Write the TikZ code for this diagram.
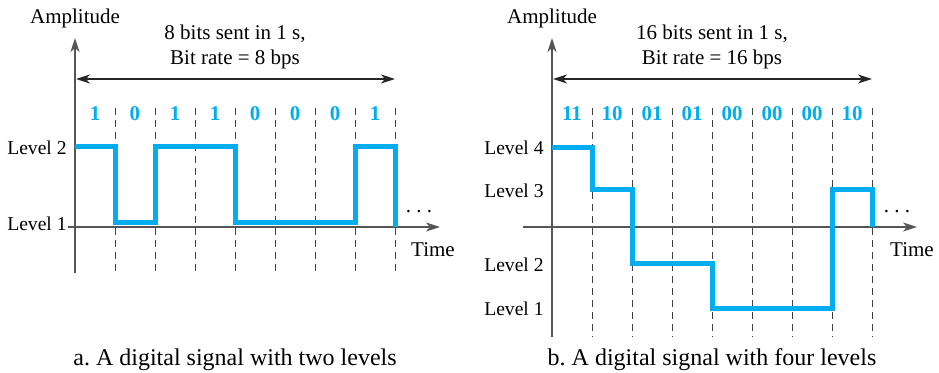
\documentclass[tikz,border=0pt]{standalone}
\usepackage{fontspec}
\setmainfont{Liberation Serif}
\usetikzlibrary{positioning, arrows.meta}
\definecolor{sigblue}{RGB}{0,174,239}
\definecolor{axisgray}{RGB}{85,85,85}
\tikzset{
	tip/.tip={Stealth[length=7pt, width=4.5pt, inset=2pt]},
	axis/.style={line width=1pt, axisgray, -tip},
	span/.style={line width=0.6pt, black!85, tip-tip},
	signal/.style={line width=2.5pt, sigblue},
	slot/.style={line width=0.5pt, dash pattern=on 3.5pt off 2.5pt, black!75},
	bit/.style={sigblue, font=\fontsize{10.5}{12}\selectfont\bfseries},
	lbl/.style={inner sep=0pt, font=\fontsize{10.5}{12.5}\selectfont},
	lvl/.style={inner sep=0pt, anchor=east, font=\fontsize{9.8}{12}\selectfont},
	caption/.style={inner sep=0pt, font=\fontsize{12}{14}\selectfont}
}

\begin{document}
\frenchspacing
\begin{tikzpicture}[x=0.5pt, y=-0.5pt]
	\useasboundingbox (0,0) rectangle (939,373);
	%Two levels: bit slots
	\foreach \x in {115,155,...,395}
	\draw[slot] (\x,108) -- (\x,273);
	\foreach \b [count=\i] in {1,0,1,1,0,0,0,1}
	\node[bit] (bita\i) at ({55+40*\i},114) {\b};
	%Two levels: axes
	\coordinate (ampbota) at (75,273);
	\coordinate (amptopa) at (75,38);
	\coordinate (timelefta) at (68,227);
	\coordinate (timerighta) at (440,227);
	\draw[axis] (ampbota) -- (amptopa);
	\draw[axis] (timelefta) -- (timerighta);
	\node[lbl] (ampa) at (75,18) {Amplitude};
	\node[lbl] (timea) at (433,250) {Time};
	\node[lvl] (lvltwoa) at (67,148) {Level 2};
	\node[lvl] (lvlonea) at (67,224) {Level 1};
	%Two levels: bit rate
	\node[lbl, align=center] (ratea) at (235,47) {8 bits sent in 1 s,\\Bit rate = 8 bps};
	\coordinate (ratestarta) at (76,79);
	\coordinate (rateenda) at (395,79);
	\draw[span] (ratestarta) -- (rateenda);
	%Two levels: signal
	\draw[signal] (75,147) -| (115,223) -| (155,147) -| (235,223) -| (355,147) -| (395,227);
	\node[lbl, anchor=base] (dotsa) at (419,213) {. . .};
	\node[caption] (capa) at (235,360) {a. A digital signal with two levels};

	%Four levels: bit slots
	\foreach \x in {592,632,...,872}
	\draw[slot] (\x,108) -- (\x,337);
	\foreach \b [count=\i] in {11,10,01,01,00,00,00,10}
	\node[bit] (bitb\i) at ({532+40*\i},114) {\b};
	%Four levels: axes
	\coordinate (ampbotb) at (552,337);
	\coordinate (amptopb) at (552,38);
	\coordinate (timeleftb) at (523,227);
	\coordinate (timerightb) at (917,227);
	\draw[axis] (ampbotb) -- (amptopb);
	\draw[axis] (timeleftb) -- (timerightb);
	\node[lbl] (ampb) at (552,18) {Amplitude};
	\node[lbl] (timeb) at (912,250) {Time};
	\node[lvl] (lvlfourb) at (544,148) {Level 4};
	\node[lvl] (lvlthreeb) at (544,191) {Level 3};
	\node[lvl] (lvltwob) at (544,265) {Level 2};
	\node[lvl] (lvloneb) at (544,309) {Level 1};
	%Four levels: bit rate
	\node[lbl, align=center] (rateb) at (712,47) {16 bits sent in 1 s,\\Bit rate = 16 bps};
	\coordinate (ratestartb) at (553,79);
	\coordinate (rateendb) at (872,79);
	\draw[span] (ratestartb) -- (rateendb);
	%Four levels: signal
	\draw[signal] (552,148) -| (592,190) -| (632,264) -| (712,309) -| (832,190) -| (872,227);
	\node[lbl, anchor=base] (dotsb) at (897,213) {. . .};
	\node[caption] (capb) at (712,360) {b. A digital signal with four levels};
\end{tikzpicture}
\end{document}
